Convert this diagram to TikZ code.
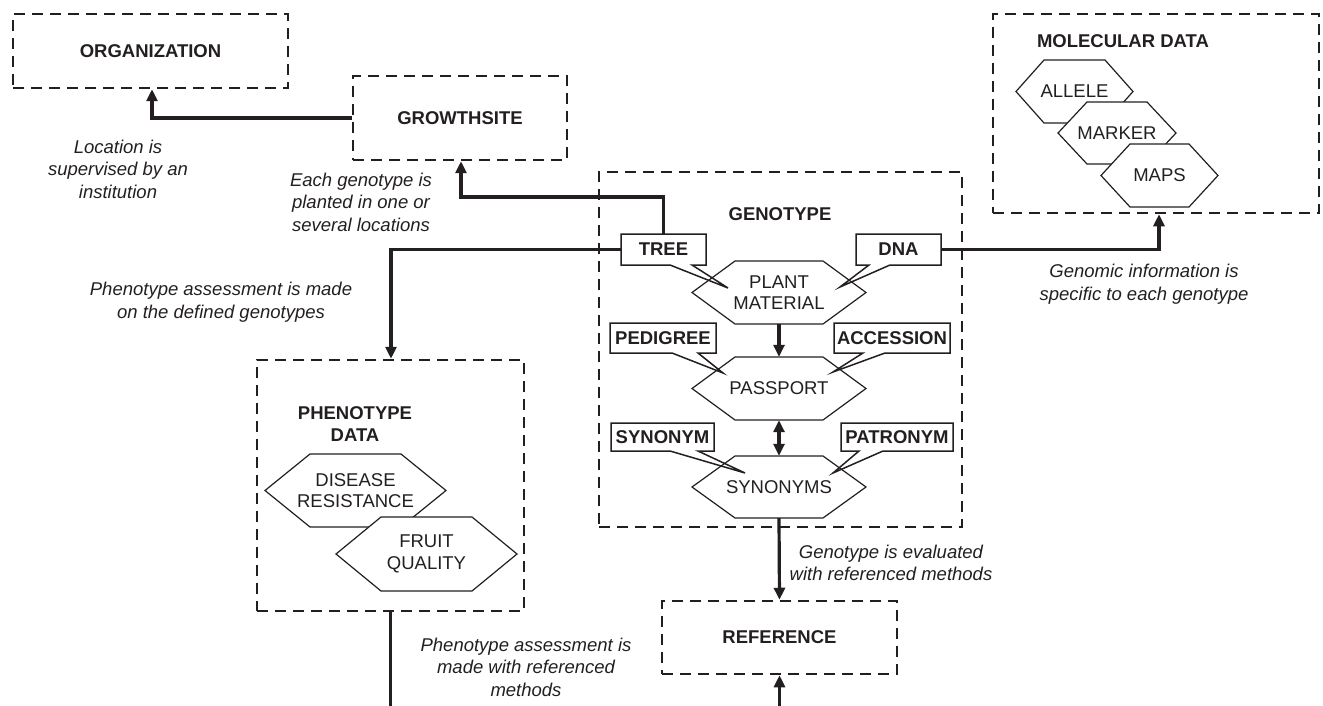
\documentclass[tikz,border=0pt]{standalone}
\usepackage{fontspec}
\setmainfont{Liberation Sans}
\usetikzlibrary{arrows.meta}
\definecolor{ink}{HTML}{231F20}
\newcommand\boldfont{\fontsize{18.5}{22}\selectfont\bfseries}
\newcommand\plainfont{\fontsize{18.5}{21.5}\selectfont}
\newcommand\notefont{\fontsize{18.5}{22.5}\selectfont\itshape}
\tikzset{
  dbox/.style={draw=ink, line width=2.5pt, dash pattern=on 11pt off 7pt, inner sep=0pt, font=\boldfont, text=ink},
  title/.style={font=\boldfont, text=ink, align=center, inner sep=0pt},
  conn/.style={draw=ink, line width=3.2pt},
  arr/.style={conn, -{Triangle[length=12pt,width=11pt]}},
  darr/.style={conn, {Triangle[length=12pt,width=11pt]}-{Triangle[length=12pt,width=11pt]}},
  hexline/.style={draw=ink, line width=1.2pt, fill=white, line join=miter},
  hexlbl/.style={font=\plainfont, text=ink, align=center, inner sep=0pt},
  calline/.style={draw=ink, line width=1.5pt, line join=miter},
  callbl/.style={font=\boldfont, text=ink, inner sep=0pt},
  note/.style={font=\notefont, text=ink, align=center, inner sep=0pt}
}
% #1 name, #2 x, #3 y, #4 half width, #5 half height, #6 inset, #7 text
\newcommand\hexa[7]{%
  \filldraw[hexline] (#2-#4,#3) -- (#2-#4+#6,#3-#5) -- (#2+#4-#6,#3-#5) -- (#2+#4,#3) -- (#2+#4-#6,#3+#5) -- (#2-#4+#6,#3+#5) -- cycle;
  \node[hexlbl, minimum width={2*#4pt}, minimum height={2*#5pt}] (#1) at (#2,#3) {#7};}
% x1 y1 x2 y2 a b tipx tipy
\newcommand\bubble[8]{%
  \draw[calline] (#1,#2) -- (#3,#2) -- (#3,#4) -- (#6,#4) -- (#7,#8) -- (#5,#4) -- (#1,#4) -- cycle;}
\begin{document}
\begin{tikzpicture}[x=1pt,y=-1pt]
\useasboundingbox (0,0) rectangle (1323,706);

% dashed boxes
\node[dbox, minimum width=275pt, minimum height=74pt] (org) at (150.5,51) {ORGANIZATION};
\node[dbox, minimum width=214pt, minimum height=84pt] (gs) at (460,118) {GROWTHSITE};
\node[dbox, minimum width=326pt, minimum height=199pt] (mol) at (1156,113.5) {};
\node[dbox, minimum width=363pt, minimum height=355pt] (geno) at (780.5,349.5) {};
\node[dbox, minimum width=267pt, minimum height=251pt] (phen) at (390.5,485.5) {};
\node[dbox, minimum width=235pt, minimum height=73pt] (ref) at (779.5,637.5) {REFERENCE};

\node[title] (moltitle) at (1123,41) {MOLECULAR DATA};
\node[title] (genotitle) at (780,214) {GENOTYPE};
\node[title] (phentitle) at (355,424) {PHENOTYPE\\DATA};

% molecular hexagons
\hexa{allele}{1074.5}{91.5}{58.5}{31.5}{28}{ALLELE}
\hexa{marker}{1117}{133}{59}{31}{29}{MARKER}
\hexa{maps}{1159.5}{175.5}{58.5}{31.5}{29}{MAPS}

% phenotype hexagons
\hexa{disease}{355.5}{490.5}{90.5}{36.5}{45}{DISEASE\\RESISTANCE}
\hexa{fruit}{426.5}{554}{90.5}{37}{45}{FRUIT\\QUALITY}

% genotype hexagons
\hexa{pm}{779}{292.5}{87}{31.5}{43}{PLANT\\MATERIAL}
\hexa{pp}{779}{388.5}{87}{31.5}{43}{PASSPORT}
\hexa{syn}{779}{487}{87}{31}{43}{SYNONYMS}

% callouts
\bubble{621}{234}{706}{265}{670}{692}{728}{288}
\node[callbl, minimum width=85pt, minimum height=31pt] (tree) at (663.5,249.5) {TREE};
\bubble{856}{234}{941}{265}{869}{890}{840}{287}
\node[callbl, minimum width=85pt, minimum height=31pt] (dna) at (898.5,249.5) {DNA};
\bubble{610}{323}{716}{353}{672}{698}{723}{373}
\node[callbl, minimum width=106pt, minimum height=30pt] (pedigree) at (663,338) {PEDIGREE};
\bubble{834}{323}{950}{353}{863}{885}{833}{372}
\node[callbl, minimum width=116pt, minimum height=30pt] (accession) at (892,338) {ACCESSION};
\bubble{611}{423}{714}{451}{670}{698}{745}{473}
\node[callbl, minimum width=103pt, minimum height=28pt] (synonym) at (662.5,437) {SYNONYM};
\bubble{841}{423}{953}{451}{859}{883}{833}{473}
\node[callbl, minimum width=112pt, minimum height=28pt] (patronym) at (897,437) {PATRONYM};

% connectors
\coordinate (c1) at (152,118);
\draw[arr] (gs.west) -- (c1) -- (c1 |- org.south);
\coordinate (c2) at (461,197);
\draw[arr] (tree.north) |- (c2) -- (c2 |- gs.south);
\coordinate (c3) at (391,249.5);
\draw[arr] (tree.west) -- (c3) -- (c3 |- phen.north);
\coordinate (c4) at (1159,249.5);
\draw[arr] (dna.east) -- (c4) -- (c4 |- mol.south);
\draw[arr] (pm.south) -- (pp.north);
\draw[darr] (pp.south) -- (syn.north);
\draw[arr] (syn.south) -- (ref.north);
\coordinate (e1) at (390.5,706);
\draw[conn] (phen.south) -- (e1);
\coordinate (e2) at (779.5,706);
\draw[arr] (e2) -- (ref.south);

% notes
\node[note] (n1) at (118,169) {Location is\\supervised by an\\institution};
\node[note] (n2) at (361,202) {Each genotype is\\planted in one or\\several locations};
\node[note] (n3) at (221,302) {Phenotype assessment is made\\on the defined genotypes};
\node[note] (n4) at (1144,284) {Genomic information is\\specific to each genotype};
\node[note] (n5) at (891,563) {Genotype is evaluated\\with referenced methods};
\node[note] (n6) at (526,667) {Phenotype assessment is\\made with referenced\\methods};
\end{tikzpicture}
\end{document}
